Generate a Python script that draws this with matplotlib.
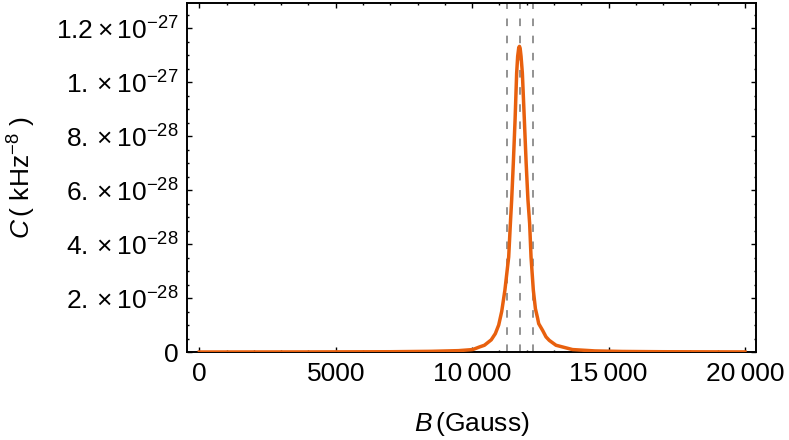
import matplotlib
matplotlib.use('Agg')
import numpy as np
import matplotlib.pyplot as plt
from matplotlib.ticker import FixedLocator, MultipleLocator

plt.rcParams['font.family'] = ['Liberation Sans', 'DejaVu Sans']
plt.rcParams['mathtext.fontset'] = 'custom'
plt.rcParams['mathtext.rm'] = 'Liberation Sans'
plt.rcParams['mathtext.it'] = 'Liberation Sans:italic'

# curve: B in Gauss, C in units of 1e-28 kHz^-8
B = [0, 4000, 7000, 8500, 9500, 10023, 10268, 10451, 10700, 10850,
     10974, 11084, 11201, 11340, 11402, 11450, 11510, 11574, 11632, 11669,
     11710, 11735, 11760, 11793, 11841, 11914, 11980, 12045, 12108, 12159,
     12243, 12320, 12400, 12440, 12584, 12708, 12829, 13074, 13315, 13681,
     14500, 15500, 17000, 20000]
C = [0.0, 0.003, 0.01, 0.025, 0.05, 0.09, 0.186, 0.25, 0.45, 0.68,
     1.0, 1.5, 2.29, 3.52, 4.76, 5.65, 7.0, 8.6, 10.33, 10.95,
     11.28, 11.32, 11.25, 10.95, 10.33, 8.6, 7.0, 5.65, 4.76, 3.52,
     2.29, 1.6, 1.25, 1.05, 0.80, 0.56, 0.43, 0.25, 0.186, 0.09,
     0.04, 0.02, 0.01, 0.003]
scale = 1e-28

# dashed reference fields
B_marks = [11295, 11742, 12218]

x_ticks = [0, 5000, 10000, 15000, 20000]
x_labels = ['0', '5000', '10\u2009000', '15\u2009000', '20\u2009000']
y_ticks = [0, 2e-28, 4e-28, 6e-28, 8e-28, 1e-27, 1.2e-27]
y_labels = ['0', r'$2.\times10^{-28}$', r'$4.\times10^{-28}$',
            r'$6.\times10^{-28}$', r'$8.\times10^{-28}$',
            r'$1.\times10^{-27}$', r'$1.2\times10^{-27}$']

fig = plt.figure(figsize=(7.89, 4.40), dpi=100)
ax = fig.add_axes([0.2374, 0.2, 0.7206, 0.794])

for b in B_marks:
    ax.axvline(b, color='#8a8a8a', lw=1.3, ls=(0, (4.2, 5.3)), zorder=1)

ax.plot(B, np.array(C) * scale, color='#e8600e', lw=2.5,
        solid_joinstyle='round', zorder=3)

ax.set_xlim(-440, 20400)
ax.set_ylim(0, 1.294e-27)

ax.xaxis.set_major_locator(FixedLocator(x_ticks))
ax.set_xticklabels(x_labels)
ax.xaxis.set_minor_locator(MultipleLocator(1000))
ax.yaxis.set_major_locator(FixedLocator(y_ticks))
ax.set_yticklabels(y_labels)
ax.yaxis.set_minor_locator(MultipleLocator(5e-29))

ax.tick_params(which='both', direction='in', top=True, right=True,
               width=1.0, labelsize=19)
ax.tick_params(axis='x', pad=7)
ax.tick_params(axis='y', pad=6)
ax.tick_params(which='major', length=3.4)
ax.tick_params(which='minor', length=1.7)
for s in ax.spines.values():
    s.set_linewidth(1.4)

ax.set_xlabel(r'$B\,$(Gauss)', fontsize=19)
ax.set_ylabel(r'$C\,$( kHz$^{-8}$ )', fontsize=19)
ax.xaxis.set_label_coords(0.5, -0.165)
ax.yaxis.set_label_coords(-0.263, 0.5)

fig.savefig('out.png', dpi=100)
